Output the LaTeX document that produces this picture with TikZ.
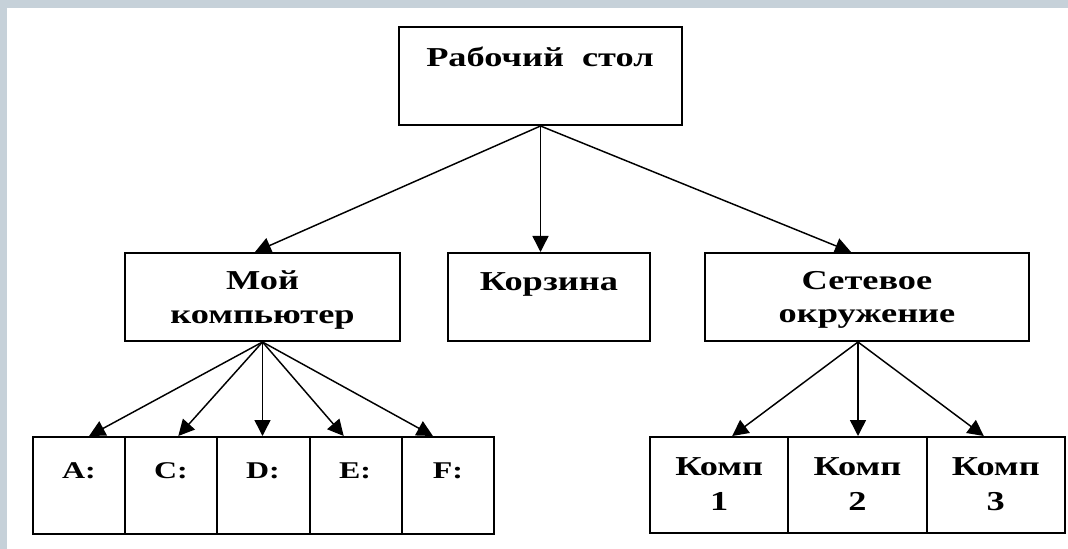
\documentclass[tikz,border=0pt]{standalone}
\usepackage{fontspec}
\setmainfont{Liberation Serif}[FakeStretch=1.33]
\usetikzlibrary{arrows.meta,calc}
\definecolor{bgcol}{HTML}{C6D1D9}
\begin{document}
\begin{tikzpicture}[x=0.75pt,y=-0.75pt,
  box/.style={draw, line width=1.5pt, inner sep=0pt},
  sz/.style 2 args={minimum width=#1*0.75pt, minimum height=#2*0.75pt},
  lbl/.style={font=\bfseries\fontsize{20.5}{25}\selectfont, inner sep=0pt, align=center},
  kl/.style={font=\bfseries\fontsize{20.5}{26.5}\selectfont, inner sep=0pt, align=center},
  dl/.style={font=\bfseries\fontsize{18}{20}\selectfont, inner sep=0pt, anchor=base},
  arr/.style={-{Triangle[length=12pt,width=12pt]}, line width=1.1pt}]
\fill[bgcol] (0,0) rectangle (1068,549);
\fill[white] (7,8) rectangle (1068,549);
\useasboundingbox (0,0) rectangle (1068,549);

% boxes
\node[box, sz={283}{98}] (top) at (540.5,76) {};
\node[box, sz={275}{88}] (mk) at (262.5,297) {};
\node[box, sz={202}{88}] (kor) at (549,297) {};
\node[box, sz={324}{88}] (net) at (867,297) {};

\node[box, sz={92.2}{97}] (a) at (79.1,485.5) {};
\node[box, sz={92.2}{97}] (c) at (171.3,485.5) {};
\node[box, sz={92.2}{97}] (d) at (263.5,485.5) {};
\node[box, sz={92.2}{97}] (e) at (355.7,485.5) {};
\node[box, sz={92.2}{97}] (f) at (447.9,485.5) {};

\node[box, sz={138.3}{96}] (k1) at (719.2,485) {};
\node[box, sz={138.3}{96}] (k2) at (857.5,485) {};
\node[box, sz={138.3}{96}] (k3) at (995.8,485) {};

% texts
\node[lbl, anchor=base] (t0) at (540,67) {Рабочий\ \ стол};
\node[lbl] (t1) at (262.5,300) {Мой\\компьютер};
\node[lbl, anchor=base] (t2) at (549,291) {Корзина};
\node[lbl] (t3) at (867,300) {Сетевое\\окружение};

\node[dl] (ta) at (79,478) {A:};
\node[dl] (tc) at (171,478) {C:};
\node[dl] (td) at (263,478) {D:};
\node[dl] (te) at (355,478) {E:};
\node[dl] (tf) at (448,478) {F:};

\node[kl] (tk1) at (719.2,484) {Комп\\1};
\node[kl] (tk2) at (857.5,484) {Комп\\2};
\node[kl] (tk3) at (995.8,484) {Комп\\3};

% connectors
\draw[arr] (top.south) -- ([xshift=-7.5*0.75pt]mk.north);
\draw[arr] (top.south) -- (top.south |- kor.north);
\draw[arr] (top.south) -- ([xshift=-16*0.75pt]net.north);

\draw[arr] (mk.south) -- ([xshift=10*0.75pt]a.north);
\draw[arr] (mk.south) -- ([xshift=7*0.75pt]c.north);
\draw[arr] (mk.south) -- (mk.south |- d.north);
\draw[arr] (mk.south) -- ([xshift=-12*0.75pt]e.north);
\draw[arr] (mk.south) -- ([xshift=-15*0.75pt]f.north);

\coordinate (ns) at ([xshift=-9*0.75pt]net.south);
\draw[arr] (ns) -- ([xshift=13*0.75pt]k1.north);
\draw[arr] (ns) -- (ns |- k2.north);
\draw[arr] (ns) -- ([xshift=-12*0.75pt]k3.north);
\end{tikzpicture}
\end{document}
